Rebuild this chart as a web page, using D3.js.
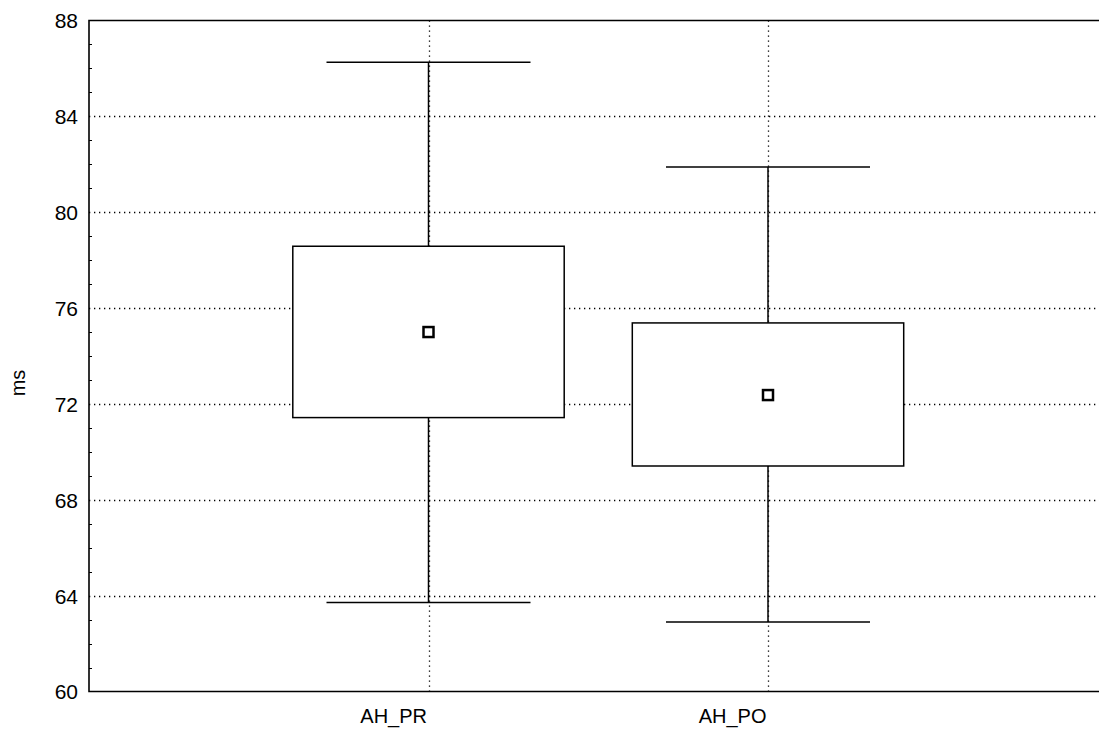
<!DOCTYPE html>
<html>
<head>
<meta charset="utf-8">
<script src="https://cdn.jsdelivr.net/npm/d3@7"></script>
<style>
  html, body { margin: 0; padding: 0; background: #fff; }
  svg { display: block; }
  text { font-family: "Liberation Sans", Arial, sans-serif; fill: #000; }
</style>
</head>
<body>
<svg id="chart" width="1099" height="729"></svg>
<script>
// Box plot: mean (square), box and whiskers per group
const categories = ["AH_PR", "AH_PO"];
const means      = [75.0, 72.37];
const boxLow     = [71.43, 69.41];
const boxHigh    = [78.58, 75.38];
const whiskLow   = [63.71, 62.90];
const whiskHigh  = [86.26, 81.89];
const yTicks     = [60, 64, 68, 72, 76, 80, 84, 88];
const yLabel     = "ms";

const W = 1099, H = 729;
const margin = { left: 89, top: 20.5, bottom: 37.5 };
const plotRight = 1107.5; // plot frame continues past the window edge

const svg = d3.select("#chart");

const x = d3.scalePoint()
  .domain(["", ...categories, " "])
  .range([margin.left, plotRight]);

const y = d3.scaleLinear()
  .domain([60, 88])
  .range([H - margin.bottom, margin.top]);

const data = categories.map((c, i) => ({
  cat: c, mean: means[i], lo: boxLow[i], hi: boxHigh[i],
  wlo: whiskLow[i], whi: whiskHigh[i]
}));

// dotted grid
const grid = svg.append("g").attr("stroke", "#000").attr("stroke-width", 1.3)
  .attr("stroke-dasharray", "1.3,3.7");
grid.selectAll("line.h").data(yTicks.filter(t => t > 60 && t < 88)).join("line")
  .attr("x1", margin.left).attr("x2", W)
  .attr("y1", d => Math.round(y(d)) + 0.5).attr("y2", d => Math.round(y(d)) + 0.5);
grid.selectAll("line.v").data(categories).join("line")
  .attr("x1", d => Math.round(x(d)) + 0.5).attr("x2", d => Math.round(x(d)) + 0.5)
  .attr("y1", margin.top).attr("y2", H - margin.bottom);

// y axis with inner minor ticks
const yAxis = d3.axisLeft(y).tickValues(yTicks).tickSize(0).tickPadding(11);
const gy = svg.append("g").attr("transform", `translate(${margin.left},0)`).call(yAxis);
gy.select(".domain").remove();
gy.selectAll("text").style("font-size", "21px").attr("dy", "0.35em");

const minor = d3.range(60, 88.01, 1).filter(v => v % 4 !== 0);
svg.append("g").selectAll("line").data(minor).join("line")
  .attr("x1", margin.left).attr("x2", margin.left + 3)
  .attr("y1", d => Math.round(y(d)) + 0.5).attr("y2", d => Math.round(y(d)) + 0.5)
  .attr("stroke", "#000").attr("stroke-width", 1);

// frame: left, top, bottom
svg.append("path")
  .attr("d", `M${W},${margin.top}H${margin.left}V${H - margin.bottom}H${W}`)
  .attr("fill", "none").attr("stroke", "#000").attr("stroke-width", 1.6);

// x labels
const xAxis = d3.axisBottom(x).tickValues(categories).tickSize(0).tickPadding(17);
const gx = svg.append("g").attr("transform", `translate(0,${H - margin.bottom})`).call(xAxis);
gx.select(".domain").remove();
gx.selectAll("text").style("font-size", "20px").attr("text-anchor", "end").attr("dx", "-2");

// y title
svg.append("text")
  .attr("transform", `translate(25,383) rotate(-90)`)
  .attr("text-anchor", "middle").style("font-size", "20px").text(yLabel);

const boxHalf = 135.7, capHalf = 102;
const g = svg.append("g").attr("stroke", "#000").attr("stroke-width", 1.5).attr("fill", "none");
const grp = g.selectAll("g").data(data).join("g");

grp.append("line")
  .attr("x1", d => x(d.cat)).attr("x2", d => x(d.cat))
  .attr("y1", d => y(d.whi)).attr("y2", d => y(d.hi));
grp.append("line")
  .attr("x1", d => x(d.cat)).attr("x2", d => x(d.cat))
  .attr("y1", d => y(d.lo)).attr("y2", d => y(d.wlo));
grp.append("line")
  .attr("x1", d => x(d.cat) - capHalf).attr("x2", d => x(d.cat) + capHalf)
  .attr("y1", d => y(d.whi)).attr("y2", d => y(d.whi));
grp.append("line")
  .attr("x1", d => x(d.cat) - capHalf).attr("x2", d => x(d.cat) + capHalf)
  .attr("y1", d => y(d.wlo)).attr("y2", d => y(d.wlo));
grp.append("rect")
  .attr("x", d => x(d.cat) - boxHalf).attr("width", boxHalf * 2)
  .attr("y", d => y(d.hi)).attr("height", d => y(d.lo) - y(d.hi))
  .attr("fill", "#fff");
grp.append("rect")
  .attr("x", d => x(d.cat) - 5).attr("y", d => y(d.mean) - 5)
  .attr("width", 10).attr("height", 10)
  .attr("fill", "#fff").attr("stroke-width", 2.5);
</script>
</body>
</html>
